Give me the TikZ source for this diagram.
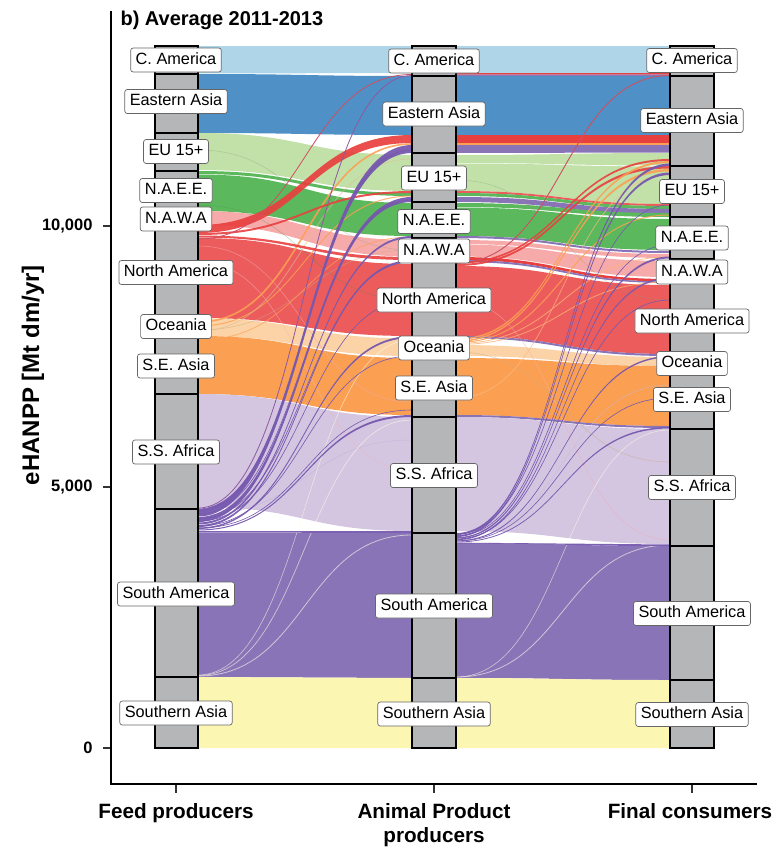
\documentclass[tikz,border=0pt]{standalone}
\usepackage{fontspec}
\setmainfont{Liberation Sans}
\definecolor{cLB}{HTML}{AED5E8}
\definecolor{cB}{HTML}{4F90C6}
\definecolor{cLG}{HTML}{C2E1A8}
\definecolor{cG}{HTML}{5CB85C}
\definecolor{cPk}{HTML}{F6ABAA}
\definecolor{cR}{HTML}{EC5C5D}
\definecolor{cRd}{HTML}{E8403F}
\definecolor{cLO}{HTML}{FBD3A6}
\definecolor{cO}{HTML}{FBA052}
\definecolor{cLP}{HTML}{D4C5E1}
\definecolor{cP}{HTML}{8A74B8}
\definecolor{cPd}{HTML}{7658AE}
\definecolor{cY}{HTML}{FBF6B2}
\definecolor{cCol}{HTML}{B4B6B7}
\newcommand\flowL[5]{\fill[#1] (198,#2) .. controls (305,#2) and (305,#4) .. (412,#4) -- (412,#5) .. controls (305,#5) and (305,#3) .. (198,#3) -- cycle;}
\newcommand\flowR[5]{\fill[#1] (456,#2) .. controls (563,#2) and (563,#4) .. (670,#4) -- (670,#5) .. controls (563,#5) and (563,#3) .. (456,#3) -- cycle;}
\newcommand\threadL[3]{\draw[#1] (198,#2) .. controls (305,#2) and (305,#3) .. (412,#3);}
\newcommand\threadR[3]{\draw[#1] (456,#2) .. controls (563,#2) and (563,#3) .. (670,#3);}
\begin{document}
\begin{tikzpicture}[x=1pt,y=-1pt,
  stratum/.style={fill=cCol,draw=black,line width=1.3pt},
  lab/.style={draw=black!60,fill=white,rounded corners=2.5pt,line width=0.7pt,
    font=\fontsize{16.3}{16}\selectfont,inner xsep=5pt,inner ysep=4.4pt,
    text height=11.8pt,text depth=3.4pt},
  axlab/.style={font=\fontsize{20}{24}\selectfont\bfseries,align=center},
  xlab/.style={font=\fontsize{20.7}{24}\selectfont\bfseries,anchor=base},
  ticklab/.style={font=\fontsize{16.5}{18}\selectfont\bfseries,anchor=east},
  axline/.style={line width=2.8pt,black},
  tick/.style={line width=2.6pt,black!80}]
\useasboundingbox (0,0) rectangle (779,849);

% ---------- left segment: main bands ----------
\flowL{cLB}{46}{73.5}{46}{73}
\flowL{cB}{74}{133}{76}{135}
\flowL{cLG}{133}{170}{155}{191}
\flowL{cG}{171}{174}{193}{196}
\flowL{cG}{174.5}{211}{203}{236}
\flowL{cPk}{211}{225}{240}{256.5}
\flowL{cR}{238}{318}{264}{336}
\flowL{cLO}{318.5}{336}{338.5}{356}
\flowL{cO}{336}{394}{358}{415}
\flowL{cLP}{394}{507}{417}{531}
\flowL{cP}{533}{677}{533}{678}
\flowL{cY}{677}{748}{678}{748}

% ---------- right segment: main bands ----------
\flowR{cLB}{46}{73}{46}{73}
\flowR{cRd}{73}{74.5}{73}{74.5}
\flowR{cP}{74.5}{76}{74.5}{76}
\flowR{cB}{76}{135}{76}{135}
\flowR{cRd}{135}{143}{135}{143}
\flowR{cO}{143}{145}{143}{145}
\flowR{cP}{145}{153}{145}{152.5}
\flowR{cLG}{155}{163}{153}{165.5}
\flowR{cLG}{163.5}{191}{166.5}{204}
\flowR{cR}{191}{193}{204}{206}
\flowR{cG}{193}{196}{206}{209}
\flowR{cP}{197}{202}{209}{214}
\flowR{cG}{203}{207}{213}{217}
\flowR{cG}{207.5}{236}{219}{250}
\flowR{cP}{236}{238}{251}{253}
\flowR{cPk}{240}{244}{254}{258}
\flowR{cPk}{244.5}{256.5}{261}{277}
\flowR{cRd}{257}{260}{279}{281.5}
\flowR{cP}{260}{262}{281.5}{283}
\flowR{cR}{266}{336}{285}{354}
\flowR{cP}{336}{338}{354}{356}
\flowR{cLO}{345}{356}{357}{366}
\flowR{cO}{358}{415}{366}{426}
\flowR{cP}{415}{417}{426}{428}
\flowR{cLP}{417}{531}{429}{544}
\flowR{cP}{543}{678}{546}{680}
\flowR{cY}{678}{748}{680}{748}

% ---------- faint threads ----------
\threadL{cR!55!white,line width=.6pt,opacity=.6}{246}{402}
\threadL{cR!45!white,line width=.5pt,opacity=.6}{262}{470}
\threadL{cLO!80!black,line width=.6pt,opacity=.5}{330}{250}
\threadL{cG!80!black,line width=.5pt,opacity=.4}{205}{300}
\threadL{cLG!70!black,line width=.5pt,opacity=.4}{150}{250}
\threadL{cP!55!white,line width=.5pt,opacity=.6}{515}{440}
\threadL{white!70!cY,line width=.8pt,opacity=.6}{676}{535}
\threadL{white!70!cY,line width=.7pt,opacity=.6}{675.5}{420}
\threadL{white!70!cY,line width=.6pt,opacity=.6}{675}{340}
\threadR{cR!50!white,line width=.5pt,opacity=.6}{300}{540}
\threadR{cLO!80!black,line width=.6pt,opacity=.5}{352}{462}
\threadR{cP!50!white,line width=.5pt,opacity=.6}{540}{385}
\threadR{cLG!70!black,line width=.5pt,opacity=.4}{180}{300}
\threadR{cO!70!white,line width=.7pt,opacity=.7}{398}{175}
\threadR{white!70!cY,line width=.8pt,opacity=.6}{677}{545}
\threadR{white!70!cY,line width=.6pt,opacity=.6}{677}{430}

% ---------- left segment: crossing flows ----------
\threadL{cO,line width=1.6pt,opacity=.9}{322}{144}
\threadL{cO,line width=1pt,opacity=.8}{326}{196}
\threadL{cO,line width=.8pt,opacity=.7}{340}{237}
\threadL{cLO!90!black,line width=.8pt,opacity=.6}{331}{159}
\flowL{cRd,opacity=.92}{225}{233}{135}{143}
\flowL{cRd,opacity=.9}{233}{235}{191}{193}
\flowL{cRd,opacity=.9}{235.5}{237.5}{257}{260}
\threadL{cRd!70!cP,line width=.8pt}{239}{74.5}
\threadL{cPd!80!cR,line width=.8pt}{508}{75.5}
\flowL{cPd,opacity=.95}{508.5}{516.5}{145}{153}
\flowL{cPd,opacity=.95}{517}{522}{197}{202}
\flowL{cPd,opacity=.95}{522.5}{524.5}{236}{238}
\flowL{cPd,opacity=.95}{525}{527}{260}{262}
\flowL{cPd,opacity=.95}{527.5}{529}{336}{338}
\flowL{cPd,opacity=.95}{529.5}{530.5}{415}{417}
\flowL{cPd,opacity=.95}{531}{532.5}{531}{533}
\threadL{cPd,line width=.6pt}{511}{150}
\threadL{cPd,line width=.6pt}{514}{200}
\threadL{cPd,line width=.6pt}{519}{262}
\threadL{cPd,line width=.6pt}{521}{300}
\threadL{cPd,line width=.6pt}{526}{356}
\threadL{cPd,line width=.6pt}{528}{410}

% ---------- right segment: crossing flows ----------
\threadR{cRd!70!cP,line width=.9pt}{263}{75.5}
\flowR{cRd,opacity=.9}{262}{263.8}{159}{161}
\flowR{cRd,opacity=.9}{264}{266}{166}{168.5}
\flowR{cO,opacity=.9}{338.5}{340}{161}{163}
\flowR{cO,opacity=.9}{340.5}{342}{169}{171.5}
\threadR{cO,line width=1pt,opacity=.85}{342.5}{215}
\threadR{cO!80!white,line width=.8pt,opacity=.8}{343.5}{257}
\threadR{cO!80!white,line width=.8pt,opacity=.8}{344.5}{282}
\flowR{cPd,opacity=.95}{533}{535}{163.5}{166}
\flowR{cPd,opacity=.95}{535.2}{537}{172.5}{175}
\flowR{cPd,opacity=.95}{537.2}{538.6}{256.5}{258.5}
\flowR{cPd,opacity=.95}{538.8}{540.2}{277.5}{279}
\flowR{cPd,opacity=.95}{540.4}{541.4}{356}{357.5}
\flowR{cPd,opacity=.95}{541.6}{542.4}{427}{428.5}
\flowR{cPd,opacity=.95}{542.6}{543.4}{544.5}{546}
\threadR{cPd,line width=.6pt}{534}{205}
\threadR{cPd,line width=.6pt}{536}{245}
\threadR{cPd,line width=.6pt}{539}{300}
\threadR{cPd,line width=.6pt}{541}{398}

% ---------- strata columns ----------
\foreach \a/\b in {46/74,74/133,133/171,171/211,211/225,225/318,318/336,336/394,394/509,509/677,677/748}
  {\draw[stratum] (155,\a) rectangle (198,\b);}
\foreach \a/\b in {46/76,76/153,153/202,202/238,238/262,262/338,338/358,358/417,417/533,533/678,678/748}
  {\draw[stratum] (412,\a) rectangle (456,\b);}
\foreach \a/\b in {46/76,76/166,166/217,217/259,259/283,283/358,358/366,366/429,429/546,546/680,680/748}
  {\draw[stratum] (670,\a) rectangle (714,\b);}

% ---------- labels ----------
\node[lab] (f1) at (176,60) {C. America};
\node[lab] (f2) at (176,101.5) {Eastern Asia};
\node[lab] (f3) at (176,151.5) {EU 15+};
\node[lab] (f4) at (176,190.5) {N.A.E.E.};
\node[lab] (f5) at (176,219) {N.A.W.A};
\node[lab] (f6) at (176,272.5) {North America};
\node[lab] (f7) at (176,326.5) {Oceania};
\node[lab] (f8) at (176,366) {S.E. Asia};
\node[lab] (f9) at (176,452) {S.S. Africa};
\node[lab] (f10) at (176,594) {South America};
\node[lab] (f11) at (176,713) {Southern Asia};

\node[lab] (a1) at (434,61) {C. America};
\node[lab] (a2) at (434,114) {Eastern Asia};
\node[lab] (a3) at (434,178) {EU 15+};
\node[lab] (a4) at (434,221.5) {N.A.E.E.};
\node[lab] (a5) at (434,251) {N.A.W.A};
\node[lab] (a6) at (434,300) {North America};
\node[lab] (a7) at (434,348) {Oceania};
\node[lab] (a8) at (434,388) {S.E. Asia};
\node[lab] (a9) at (434,475.5) {S.S. Africa};
\node[lab] (a10) at (434,606) {South America};
\node[lab] (a11) at (434,714) {Southern Asia};

\node[lab] (c1) at (692,60.5) {C. America};
\node[lab] (c2) at (692,120.5) {Eastern Asia};
\node[lab] (c3) at (692,191.5) {EU 15+};
\node[lab] (c4) at (692,238) {N.A.E.E.};
\node[lab] (c5) at (692,272) {N.A.W.A};
\node[lab] (c6) at (692,321) {North America};
\node[lab] (c7) at (692,363.5) {Oceania};
\node[lab] (c8) at (692,399.5) {S.E. Asia};
\node[lab] (c9) at (692,487.5) {S.S. Africa};
\node[lab] (c10) at (692,613.5) {South America};
\node[lab] (c11) at (692,714.5) {Southern Asia};

% ---------- axes ----------
\draw[axline] (111,11) -- (111,784) -- (757,784);
\foreach \yy in {226,487,748} {\draw[tick] (103,\yy) -- (110,\yy);}
\foreach \xx in {176,434,692} {\draw[tick] (\xx,785) -- (\xx,793);}
\node[ticklab] (t10) at (96,226) {10,000};
\node[ticklab] (t5) at (96,487) {5,000};
\node[ticklab] (t0) at (96,748) {0};
\node[axlab,anchor=base west] (title) at (117,25) {b) Average 2011-2013};
\node[xlab] (x1) at (176,818) {Feed producers};
\node[xlab] (x2) at (434,818) {Animal Product};
\node[xlab] (x2b) at (434,842) {producers};
\node[xlab] (x3) at (690,818) {Final consumers};
\node[font=\fontsize{24}{26}\selectfont\bfseries,rotate=90,anchor=base] (ylab) at (39,375) {eHANPP [Mt dm/yr]};
\end{tikzpicture}
\end{document}
